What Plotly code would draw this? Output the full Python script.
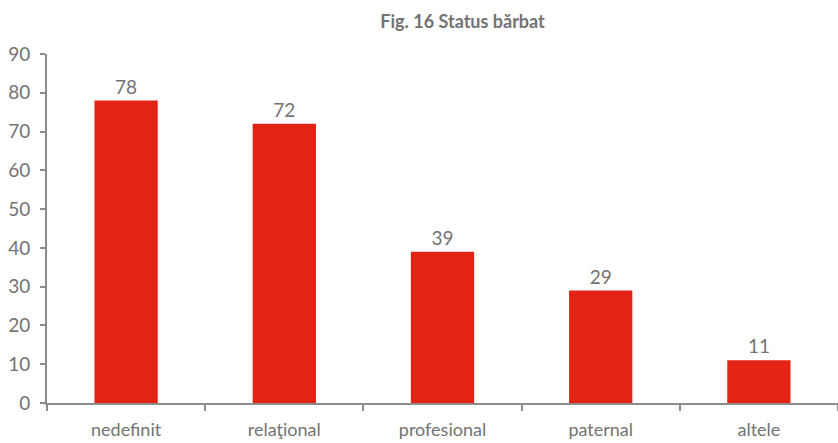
import plotly.graph_objects as go

categories = ["nedefinit", "relaţional", "profesional", "paternal", "altele"]
values = [78, 72, 39, 29, 11]
y_ticks = [0, 10, 20, 30, 40, 50, 60, 70, 80, 90]

GRAY = "#737373"
FONT = "Lato, 'Open Sans', sans-serif"

fig = go.Figure(go.Bar(
    x=categories, y=values,
    marker=dict(color="#E32415", line=dict(width=0)),
    text=[str(v) for v in values], textposition="outside",
    textfont=dict(size=19, color=GRAY, family=FONT),
    cliponaxis=False,
))

fig.update_layout(
    width=838, height=443,
    margin=dict(l=47, r=0, t=54, b=40, autoexpand=False),
    paper_bgcolor="white", plot_bgcolor="white",
    bargap=0.6,
    showlegend=False,
    font=dict(family=FONT, color=GRAY, size=18),
    title=dict(text="<b>Fig. 16 Status bărbat</b>", x=0.552, xanchor="center",
               y=0.95, yanchor="middle", automargin=False,
               font=dict(size=18, color=GRAY, family=FONT)),
    xaxis=dict(showline=True, linecolor="#8c8c8c", linewidth=2,
               ticks="outside", tickson="boundaries", ticklen=6, tickwidth=2,
               tickcolor="#8c8c8c", showgrid=False, zeroline=False,
               automargin=False, ticklabelstandoff=9,
               tickfont=dict(size=18, color=GRAY)),
    yaxis=dict(range=[0, 90], tickvals=y_ticks, showline=True,
               linecolor="#8c8c8c", linewidth=2, ticks="outside", ticklen=5,
               tickwidth=2, tickcolor="#8c8c8c", showgrid=False, zeroline=False,
               automargin=False, ticklabelstandoff=6,
               tickfont=dict(size=19, color=GRAY)),
)

fig.write_html("out.html", config={"displayModeBar": False},
               post_script="document.body.style.margin='0';")
